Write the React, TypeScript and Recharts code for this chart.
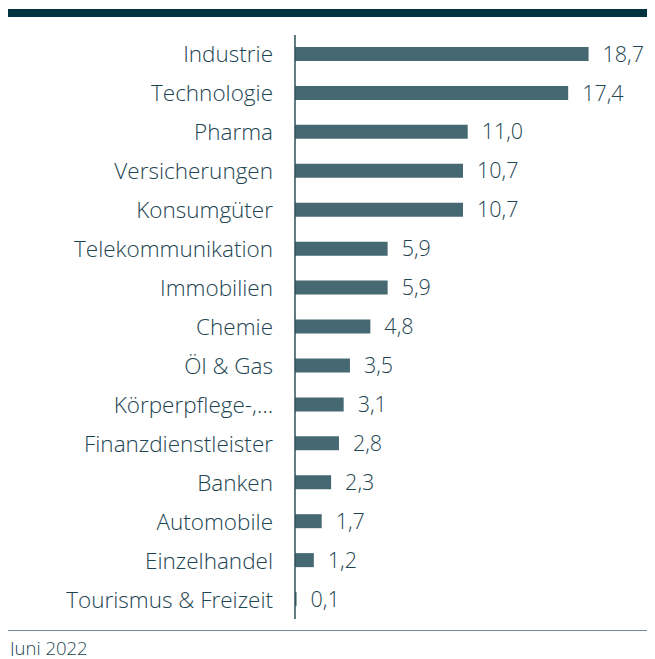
import { Bar, BarChart, LabelList, XAxis, YAxis } from "recharts";

const categories = [
  "Industrie",
  "Technologie",
  "Pharma",
  "Versicherungen",
  "Konsumgüter",
  "Telekommunikation",
  "Immobilien",
  "Chemie",
  "Öl & Gas",
  "Körperpflege-,…",
  "Finanzdienstleister",
  "Banken",
  "Automobile",
  "Einzelhandel",
  "Tourismus & Freizeit",
];

const weights = [18.7, 17.4, 11.0, 10.7, 10.7, 5.9, 5.9, 4.8, 3.5, 3.1, 2.8, 2.3, 1.7, 1.2, 0.1];

const data = categories.map((name, i) => ({ name, value: weights[i] }));

const TEXT = "#1d4451";
const BAR = "#466872";
const FONT = "'Open Sans', sans-serif";

const formatValue = (v: number) => v.toFixed(1).replace(".", ",");

export default function App() {
  return (
    <div style={{ position: "relative", width: 647, height: 648, fontFamily: FONT }}>
      <div style={{ position: "absolute", top: 1, left: 0, width: 647, height: 8, background: "#013340" }} />
      <div style={{ position: "absolute", top: 27, left: 0 }}>
        <BarChart
          layout="vertical"
          width={647}
          height={584}
          data={data}
          margin={{ top: 0, right: 46, bottom: 0, left: 0 }}
          barCategoryGap={0}
        >
          <XAxis type="number" domain={[0, 20]} hide />
          <YAxis
            type="category"
            dataKey="name"
            width={287}
            tickLine={false}
            tickMargin={16}
            axisLine={{ stroke: "#2e5059", strokeWidth: 1.5 }}
            tick={{ fill: TEXT, fontSize: 22.5, fontWeight: 300, fontFamily: FONT }}
            interval={0}
          />
          <Bar dataKey="value" fill={BAR} barSize={14} isAnimationActive={false}>
            <LabelList
              dataKey="value"
              position="right"
              offset={14}
              formatter={(v: any) => formatValue(Number(v))}
              style={{ fill: TEXT, fontSize: 21.5, fontWeight: 300, fontFamily: FONT }}
            />
          </Bar>
        </BarChart>
      </div>
      <div style={{ position: "absolute", top: 622, left: 0, width: 647, height: 1, background: "#6f8c95" }} />
      <div
        style={{
          position: "absolute",
          top: 631,
          left: 2,
          fontSize: 18.5,
          lineHeight: "18.5px",
          fontWeight: 300,
          color: TEXT,
          whiteSpace: "nowrap",
        }}
      >
        Juni 2022
      </div>
    </div>
  );
}
